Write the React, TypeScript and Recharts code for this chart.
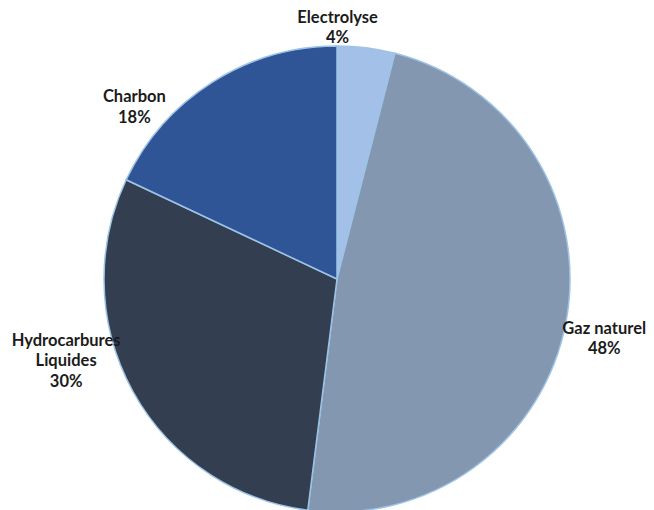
import { PieChart, Pie, Cell } from 'recharts';

const categories = ['Electrolyse', 'Gaz naturel', 'Hydrocarbures Liquides', 'Charbon'];
const shares = [4, 48, 30, 18];
const labelLines = [['Electrolyse'], ['Gaz naturel'], ['Hydrocarbures', 'Liquides'], ['Charbon']];

const colors = ['#a3c1e8', '#8497b0', '#333f50', '#2f5597'];
// nudges away from the default radial label position
const nudges = [
  [-33, 14],
  [4, 9],
  [-36, -48],
  [-59, 54],
];

const data = categories.map((name, i) => ({ name, value: shares[i] }));

const RAD = Math.PI / 180;

function renderLabel(props: any) {
  const { cx, cy, outerRadius, midAngle, index, value } = props;
  const r = outerRadius + 35;
  const x = cx + r * Math.cos(-midAngle * RAD) + nudges[index][0];
  const y = cy + r * Math.sin(-midAngle * RAD) + nudges[index][1];
  const lines = [...labelLines[index], `${value}%`];
  const lh = 20.5;
  const top = y - ((lines.length - 1) * lh) / 2;
  return (
    <text
      x={x}
      y={top}
      textAnchor="middle"
      dominantBaseline="central"
      fill="#1b1b1b"
      fontFamily="Lato, 'Open Sans', sans-serif"
      fontWeight="bold"
      fontSize={16.5}
    >
      {lines.map((l, i) => (
        <tspan key={i} x={x} y={top + i * lh}>
          {l}
        </tspan>
      ))}
    </text>
  );
}

export default function App() {
  return (
    <div style={{ position: 'absolute', left: 0, top: 0, width: 654, height: 510, background: '#fff' }}>
      <PieChart width={654} height={510} margin={{ top: 0, right: 0, bottom: 0, left: 0 }}>
        <Pie
          data={data}
          dataKey="value"
          cx={337}
          cy={279}
          outerRadius={233}
          startAngle={90}
          endAngle={-270}
          stroke="#9dc3e6"
          strokeWidth={1.5}
          label={renderLabel}
          labelLine={false}
          isAnimationActive={false}
        >
          {data.map((d, i) => (
            <Cell key={d.name} fill={colors[i]} />
          ))}
        </Pie>
      </PieChart>
    </div>
  );
}
